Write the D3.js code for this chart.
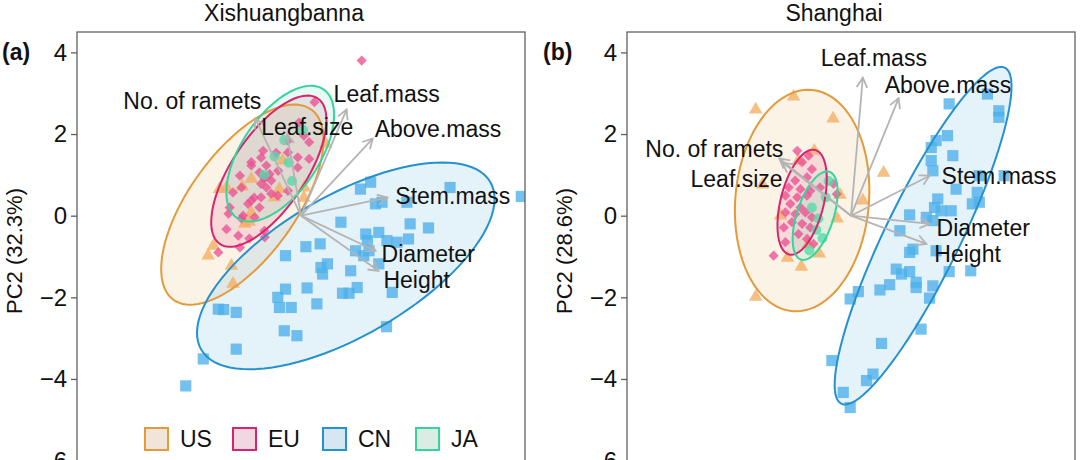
<!DOCTYPE html>
<html>
<head>
<meta charset="utf-8">
<script src="https://cdn.jsdelivr.net/npm/d3@7"></script>
<style>
  body { margin: 0; background: #fff; }
  svg { display: block; font-family: "Liberation Sans", Arial, Helvetica, sans-serif; }
</style>
</head>
<body>
<svg id="chart" width="1080" height="460"></svg>
<script>
// ---- data (PCA scores, loadings, 95% ellipses) ----
const groups = ["US", "EU", "CN", "JA"];
const traits = ["No. of ramets", "Leaf.size", "Leaf.mass", "Above.mass", "Stem.mass", "Diameter", "Height"];
const yTicks = [4, 2, 0, -2, -4, -6];

// Xishuangbanna
const xsbnUS = [[0.61,1.76],[-0.45,1.35],[-1.22,0.90],[-2.0,0.65],[-1.83,0.69],[-0.53,0.65],[0.08,0.69],
  [-1.22,0.08],[-1.38,-0.20],[-2.15,-0.74],[-2.28,-0.98],[-1.71,-1.23],[-1.67,-1.67],[0.07,0.44],
  [-1.44,0.71],[-1.27,-0.15],[-0.65,0.45]];
const xsbnEU = [[0.33,2.78],[0.20,1.80],[-0.93,1.59],[-1.22,1.31],[-1.50,0.98],[-0.32,1.55],[-0.08,1.43],
  [0.20,1.39],[-0.08,1.18],[-0.85,1.23],[-1.02,1.06],[-0.89,0.94],[-0.77,1.02],[-0.73,0.86],[-0.98,0.78],
  [-0.85,0.69],[-1.46,0.69],[-1.67,0.57],[-0.57,0.49],[-0.98,0.45],[-1.22,0.37],[-1.02,0.20],[-1.30,0.29],
  [-1.75,0.20],[-1.42,0.0],[-1.14,-0.04],[-1.83,-0.33],[-1.54,-0.49],[-0.89,-0.53],[-1.50,-0.78],
  [-2.03,-0.90],[-0.05,2.28],[-0.32,1.84],[0.07,1.96],[-0.61,1.54],[-0.98,1.42],[-1.22,1.23],[-0.56,1.10],
  [-0.90,0.91],[-0.73,0.54],[-0.32,0.61],[-1.15,0.44],[-1.78,0.05],[-1.46,-0.07],[-0.90,-0.37],
  [-1.27,-0.56],[1.49,3.80]];
const xsbnCN = [[1.71,0.82],[1.46,0.65],[1.83,0.29],[1.99,0.33],[2.60,0.33],[3.66,0.69],[5.41,0.47],
  [0.98,-0.16],[2.68,-0.20],[3.13,-0.30],[1.59,-0.45],[1.91,-0.41],[1.63,-0.61],[2.11,-0.61],[2.36,-0.65],
  [2.64,-0.57],[1.34,-0.86],[1.54,-0.98],[1.67,-0.86],[0.12,-0.76],[0.47,-0.69],[-0.38,-0.98],[0.65,-1.18],
  [0.49,-1.27],[0.53,-1.43],[1.22,-1.35],[1.91,-1.18],[-0.38,-1.80],[0.15,-1.77],[1.02,-1.90],[1.18,-1.90],
  [1.38,-1.76],[2.24,-1.88],[-0.57,-2.00],[-0.53,-2.25],[-0.24,-2.25],[0.39,-2.16],[-2.03,-2.29],
  [-1.59,-2.37],[-0.41,-2.82],[-0.10,-2.94],[2.10,-2.72],[-1.59,-3.27],[-2.40,-3.51],[-2.83,-4.17],
  [-1.90,-2.30]];
const xsbnJA = [[-0.65,1.45],[-0.22,0.85],[-0.41,1.85],[0.05,2.1],[-0.9,1.0],[-0.3,1.3]];
const xsbnLoadX = [-1.12, -0.34, 1.12, 1.76, 2.12, 1.83, 1.90];
const xsbnLoadY = [2.38, 1.99, 2.60, 1.89, 0.44, -0.86, -1.35];
// ellipse: [centre x, centre y, semi-major, semi-minor, angle in degrees], in group order
const xsbnEllipse = [[-1.44,0.27,2.88,1.30,54], [-0.79,1.09,2.15,0.90,56],
  [1.10,-1.23,4.10,1.72,30], [-0.51,1.52,1.90,0.95,56]];

// Shanghai
const shUS = [[-1.41,2.92],[-2.34,2.60],[-0.44,2.38],[-0.90,1.59],[-1.29,1.35],[-2.17,0.76],[0.80,1.05],
  [0.29,0.37],[-0.27,0.51],[-0.34,-0.07],[-1.56,-1.03],[-1.22,-1.25],[-0.78,-0.93],[-1.05,-0.69],
  [-2.34,-1.99],[-1.73,0.0]];
const shEU = [[-1.32,1.59],[-1.04,1.47],[-1.20,1.31],[-0.96,1.14],[-1.08,0.94],[-1.37,0.86],[-1.53,0.69],
  [-1.24,0.65],[-1.00,0.61],[-1.61,0.49],[-1.32,0.45],[-1.08,0.49],[-1.49,0.29],[-1.24,0.20],[-1.61,0.08],
  [-1.37,0.04],[-1.12,0.08],[-0.96,-0.04],[-1.45,-0.16],[-1.20,-0.20],[-1.65,-0.29],[-1.00,-0.29],
  [-1.29,-0.45],[-1.08,-0.57],[-1.61,-0.65],[-0.92,-0.69],[-1.90,-0.98],[-0.43,0.78],[-0.35,0.53],
  [-0.76,0.69]];
const shCN = [[3.35,2.98],[2.41,2.74],[3.63,2.57],[3.63,2.41],[2.37,1.96],[2.09,1.84],[1.97,1.67],
  [2.50,1.47],[1.97,1.35],[2.01,1.10],[3.15,0.98],[2.58,0.65],[3.10,0.57],[2.13,0.41],[2.98,0.29],
  [3.15,0.33],[2.05,0.20],[2.21,0.12],[2.46,0.12],[1.44,0.02],[1.85,-0.04],[2.01,-0.12],[1.20,-0.37],
  [1.52,-0.82],[1.44,-0.90],[2.09,-0.86],[1.11,-1.31],[1.44,-1.37],[1.24,-1.43],[1.60,-1.63],[1.60,-1.76],
  [2.01,-1.72],[2.41,-1.37],[2.94,-1.35],[0.95,-1.69],[0.71,-1.82],[0.18,-1.86],[-0.02,-2.04],
  [1.93,-2.02],[1.72,-2.78],[0.75,-3.13],[-0.47,-3.55],[0.54,-3.88],[0.38,-4.04],[-0.19,-4.33],
  [-0.02,-4.70],[3.76,0.98]];
const shJA = [[-0.96,0.20],[-0.80,-0.07],[-0.70,-0.55],[-0.62,0.45],[-1.02,-0.85],[-0.55,0.85],[-0.85,-0.35]];
const shLoadX = [-1.76, -1.68, 0.29, 1.17, 1.93, 1.93, 1.85];
const shLoadY = [1.40, 1.30, 3.38, 2.88, 0.98, -0.20, -0.69];
const shEllipse = [[-1.20,0.37,2.72,1.64,85], [-1.20,0.33,1.32,0.53,76],
  [1.77,-0.49,4.58,0.92,64], [-0.88,0.0,1.13,0.45,72]];

// ---- styles ----
const lineColor = { US: "#e39a3b", EU: "#d6246e", CN: "#2591cf", JA: "#34d49d" };
const dotColor  = { US: "#f4ad62", EU: "#ec4f92", CN: "#4cb0ea", JA: "#55d8a9" };
const keyFill   = { US: "#f1e4d8", EU: "#f2d6e2", CN: "#d6e6f2", JA: "#d9ede5" };
const symbolOf = {
  US: d3.symbol().type(d3.symbolTriangle).size(80),
  EU: d3.symbol().type(d3.symbolSquare).size(52),
  CN: d3.symbol().type(d3.symbolSquare).size(125),
  JA: d3.symbol().type(d3.symbolCircle).size(80)
};

const svg = d3.select("#chart");

function drawPanel(p) {
  const x = d3.scaleLinear().domain([-5.5, 5.5]).range([p.left, p.left + 448]);
  const y = d3.scaleLinear().domain([-6.5, 4.5]).range([481, 32]);
  const g = svg.append("g");

  g.append("clipPath").attr("id", "clip" + p.id)
    .append("rect").attr("x", x(-5.5)).attr("y", y(4.5))
    .attr("width", x(5.5) - x(-5.5)).attr("height", y(-6.5) - y(4.5));
  const plot = g.append("g").attr("clip-path", `url(#clip${p.id})`);

  const ellPath = e => {
    const [cx, cy, a, b, ang] = e, th = ang * Math.PI / 180;
    const pts = d3.range(0, 101).map(i => {
      const t = i / 100 * 2 * Math.PI;
      return [cx + a * Math.cos(t) * Math.cos(th) - b * Math.sin(t) * Math.sin(th),
              cy + a * Math.cos(t) * Math.sin(th) + b * Math.sin(t) * Math.cos(th)];
    });
    return d3.line().x(d => x(d[0])).y(d => y(d[1]))(pts);
  };

  // ellipse fills
  plot.selectAll("path.fill")
    .data(p.ellipse)
    .join("path")
      .attr("class", "fill")
      .attr("d", ellPath)
      .attr("fill", (d, i) => lineColor[groups[i]])
      .attr("fill-opacity", 0.12)
      .attr("stroke", "none");

  // points
  groups.forEach((grp, i) => {
    plot.append("g").selectAll("path")
      .data(p.points[i])
      .join("path")
        .attr("d", symbolOf[grp])
        .attr("transform", d => `translate(${x(d[0])},${y(d[1])})` + (grp === "EU" ? " rotate(45)" : ""))
        .attr("fill", dotColor[grp])
        .attr("fill-opacity", 0.78);
  });

  // ellipse outlines
  plot.selectAll("path.outline")
    .data(p.ellipse)
    .join("path")
      .attr("class", "outline")
      .attr("d", ellPath)
      .attr("fill", "none")
      .attr("stroke", (d, i) => lineColor[groups[i]])
      .attr("stroke-width", 2);

  // loading arrows
  const arrows = plot.append("g").attr("stroke", "#b4b4b4").attr("stroke-width", 1.8).attr("fill", "none");
  traits.forEach((t, i) => {
    const x0 = x(0), y0 = y(0), x1 = x(p.loadX[i]), y1 = y(p.loadY[i]);
    const ang = Math.atan2(y1 - y0, x1 - x0), len = 11, spread = 0.5;
    arrows.append("line").attr("x1", x0).attr("y1", y0).attr("x2", x1).attr("y2", y1);
    arrows.append("path").attr("d",
      `M${x1 - len * Math.cos(ang - spread)},${y1 - len * Math.sin(ang - spread)}L${x1},${y1}` +
      `L${x1 - len * Math.cos(ang + spread)},${y1 - len * Math.sin(ang + spread)}`);
  });

  // trait labels
  traits.forEach((t, i) => {
    const off = p.labelOff[i];
    g.append("text")
      .attr("x", x(p.loadX[i]) + off[0])
      .attr("y", y(p.loadY[i]) + off[1])
      .attr("text-anchor", off[2])
      .style("font-size", "23px")
      .attr("fill", "#111")
      .text(t);
  });

  // box
  g.append("rect")
    .attr("x", x(-5.5)).attr("y", y(4.5))
    .attr("width", x(5.5) - x(-5.5)).attr("height", y(-6.5) - y(4.5))
    .attr("fill", "none").attr("stroke", "#606060").attr("stroke-width", 1.3);

  // y axis
  const ax = g.append("g")
    .attr("transform", `translate(${x(-5.5)},0)`)
    .call(d3.axisLeft(y).tickValues(yTicks).tickSize(6).tickPadding(4));
  ax.select(".domain").remove();
  ax.selectAll("line").attr("stroke", "#606060").attr("stroke-width", 1.3);
  ax.selectAll("text").style("font-size", "24px").attr("fill", "#111")
    .style("font-family", "\"Liberation Sans\", Arial, sans-serif");

  g.append("text")
    .attr("transform", `translate(${p.left - 55},251) rotate(-90)`)
    .attr("text-anchor", "middle")
    .style("font-size", "22px")
    .attr("fill", "#111")
    .text(p.yTitle);

  g.append("text")
    .attr("x", p.left + 224 - 17).attr("y", 21)
    .attr("text-anchor", "middle")
    .style("font-size", "23px")
    .attr("fill", "#111")
    .text(p.title);

  g.append("text")
    .attr("x", p.tagX).attr("y", 60)
    .style("font-size", "23px").style("font-weight", "bold")
    .attr("fill", "#111")
    .text(p.tag);

  return { x, y, g };
}

drawPanel({
  id: "a", left: 77, title: "Xishuangbanna", tag: "(a)", tagX: 2, yTitle: "PC2 (32.3%)",
  points: [xsbnUS, xsbnEU, xsbnCN, xsbnJA], ellipse: xsbnEllipse,
  loadX: xsbnLoadX, loadY: xsbnLoadY,
  labelOff: [[6,-10,"end"],[-26,1,"start"],[-13,-8,"start"],[2,-2,"start"],[8,6,"start"],[6,11,"start"],[5,17,"start"]]
});

drawPanel({
  id: "b", left: 627, title: "Shanghai", tag: "(b)", tagX: 543, yTitle: "PC2 (28.6%)",
  points: [shUS, shEU, shCN, shJA], ellipse: shEllipse,
  loadX: shLoadX, loadY: shLoadY,
  labelOff: [[4,-2,"end"],[0,24,"end"],[-42,-12,"start"],[-14,-5,"start"],[12,8,"start"],[7,12,"start"],[8,18,"start"]]
});

// legend (inside panel a, bottom)
const legend = svg.append("g")
  .selectAll("g")
  .data(groups)
  .join("g")
    .attr("transform", (d, i) => `translate(${[145, 233, 323, 416][i]},428)`);
legend.append("rect")
  .attr("width", 23).attr("height", 22)
  .attr("fill", d => keyFill[d])
  .attr("stroke", d => lineColor[d])
  .attr("stroke-width", 2);
legend.append("text")
  .attr("x", 35).attr("y", 19)
  .style("font-size", "23px")
  .attr("fill", "#111")
  .text(d => d);
</script>
</body>
</html>
